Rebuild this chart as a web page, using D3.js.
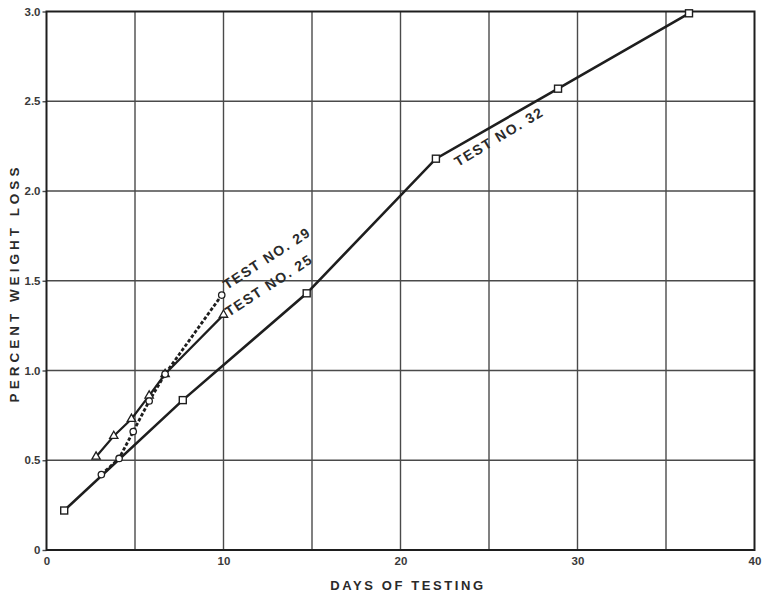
<!DOCTYPE html>
<html>
<head>
<meta charset="utf-8">
<script src="https://cdn.jsdelivr.net/npm/d3@7"></script>
<style>
  html, body { margin: 0; padding: 0; background: #ffffff; }
  svg { display: block; }
  text { font-family: "Liberation Sans", "DejaVu Sans", sans-serif; }
</style>
</head>
<body>
<svg id="chart" width="763" height="595"></svg>
<script>
// ---- data ----
const xTicks = [0, 10, 20, 30, 40];
const yTicks = [0, 0.5, 1.0, 1.5, 2.0, 2.5, 3.0];
const yTickLabels = ["0", "0.5", "1.0", "1.5", "2.0", "2.5", "3.0"];
const xGrid = [5, 10, 15, 20, 25, 30, 35];
const yGrid = [0.5, 1.0, 1.5, 2.0, 2.5];

const test32Days = [1.0, 7.7, 14.7, 22.0, 28.9, 36.3];
const test32Loss = [0.22, 0.835, 1.43, 2.18, 2.57, 2.99];

const test25Days = [2.8, 3.8, 4.8, 5.8, 6.7, 10.0];
const test25Loss = [0.52, 0.635, 0.73, 0.86, 0.98, 1.31];

const test29Days = [3.1, 4.1, 4.9, 5.8, 6.7, 9.9];
const test29Loss = [0.42, 0.51, 0.66, 0.83, 0.98, 1.42];

const seriesLabels = ["TEST NO. 29", "TEST NO. 25", "TEST NO. 32"];

// ---- layout ----
const svg = d3.select("#chart");
const mLeft = 46.5, mRight = 754.5, mTop = 11.5, mBottom = 550;
const x = d3.scaleLinear().domain([0, 40]).range([mLeft, mRight]);
const y = d3.scaleLinear().domain([0, 3]).range([mBottom, mTop]);

const ink = "#1e1e1e";
const gridCol = "#4a4a4a";

// grid
svg.append("g").selectAll("line").data(xGrid).join("line")
  .attr("x1", d => x(d)).attr("x2", d => x(d))
  .attr("y1", mTop).attr("y2", mBottom)
  .attr("stroke", gridCol).attr("stroke-width", 1.4);
svg.append("g").selectAll("line").data(yGrid).join("line")
  .attr("x1", mLeft).attr("x2", mRight)
  .attr("y1", d => y(d)).attr("y2", d => y(d))
  .attr("stroke", gridCol).attr("stroke-width", 1.4);

// axes
const yAxis = d3.axisLeft(y).tickValues(yTicks)
  .tickFormat((d, i) => yTickLabels[i]).tickSize(4).tickPadding(2);
const gy = svg.append("g").attr("transform", `translate(${mLeft},0)`).call(yAxis);
gy.select(".domain").remove();
gy.selectAll(".tick line").attr("stroke", gridCol).attr("stroke-width", 1.4);
gy.selectAll(".tick text").attr("font-size", 11.5).attr("font-weight", "bold")
  .attr("fill", "#3a3a3a").attr("font-family", "Liberation Sans, sans-serif");

const xAxis = d3.axisBottom(x).tickValues(xTicks).tickFormat(d3.format("d"))
  .tickSize(0).tickPadding(7);
const gx = svg.append("g").attr("transform", `translate(0,${mBottom})`).call(xAxis);
gx.select(".domain").remove();
gx.selectAll(".tick text").attr("font-size", 11.5).attr("font-weight", "bold")
  .attr("fill", "#3a3a3a").attr("font-family", "Liberation Sans, sans-serif");

// frame
svg.append("rect").attr("x", mLeft).attr("y", mTop)
  .attr("width", mRight - mLeft).attr("height", mBottom - mTop)
  .attr("fill", "none").attr("stroke", ink).attr("stroke-width", 2);

// lines
const line = d3.line().x(d => x(d[0])).y(d => y(d[1]));
const pts32 = test32Days.map((d, i) => [d, test32Loss[i]]);
const pts25 = test25Days.map((d, i) => [d, test25Loss[i]]);
const pts29 = test29Days.map((d, i) => [d, test29Loss[i]]);

svg.append("path").datum(pts32).attr("d", line)
  .attr("fill", "none").attr("stroke", ink).attr("stroke-width", 2.6);
svg.append("path").datum(pts25).attr("d", line)
  .attr("fill", "none").attr("stroke", ink).attr("stroke-width", 2.2);
svg.append("path").datum(pts29).attr("d", line)
  .attr("fill", "none").attr("stroke", ink).attr("stroke-width", 2.8)
  .attr("stroke-dasharray", "3.5,2");

// markers
svg.append("g").selectAll("rect").data(pts32).join("rect")
  .attr("x", d => x(d[0]) - 3.5).attr("y", d => y(d[1]) - 3.5)
  .attr("width", 7).attr("height", 7)
  .attr("fill", "#fff").attr("stroke", ink).attr("stroke-width", 1.4);
const tri = d3.symbol().type(d3.symbolTriangle).size(30);
svg.append("g").selectAll("path").data(pts25).join("path")
  .attr("transform", d => `translate(${x(d[0])},${y(d[1])})`)
  .attr("d", tri)
  .attr("fill", "#fff").attr("stroke", ink).attr("stroke-width", 1.3);
svg.append("g").selectAll("circle").data(pts29).join("circle")
  .attr("cx", d => x(d[0])).attr("cy", d => y(d[1])).attr("r", 3.2)
  .attr("fill", "#fff").attr("stroke", ink).attr("stroke-width", 1.3);

// series labels
const labelPos = [
  { px: 227, py: 290, a: -33 },
  { px: 229, py: 317, a: -33 },
  { px: 458, py: 167, a: -31 }
];
svg.append("g").selectAll("text").data(seriesLabels).join("text")
  .attr("transform", (d, i) => `translate(${labelPos[i].px},${labelPos[i].py}) rotate(${labelPos[i].a})`)
  .attr("font-size", 14).attr("font-weight", "bold").attr("letter-spacing", 1.6)
  .attr("fill", "#2a2a2a")
  .text(d => d);

// axis titles
svg.append("text").attr("x", 408).attr("y", 590)
  .attr("text-anchor", "middle").attr("font-size", 13).attr("font-weight", "bold")
  .attr("letter-spacing", 2.6).attr("fill", "#2a2a2a")
  .text("DAYS OF TESTING");
svg.append("text")
  .attr("transform", "translate(19,283) rotate(-90)")
  .attr("text-anchor", "middle").attr("font-size", 13.5).attr("font-weight", "bold")
  .attr("letter-spacing", 4).attr("fill", "#2a2a2a")
  .text("PERCENT WEIGHT LOSS");
</script>
</body>
</html>
